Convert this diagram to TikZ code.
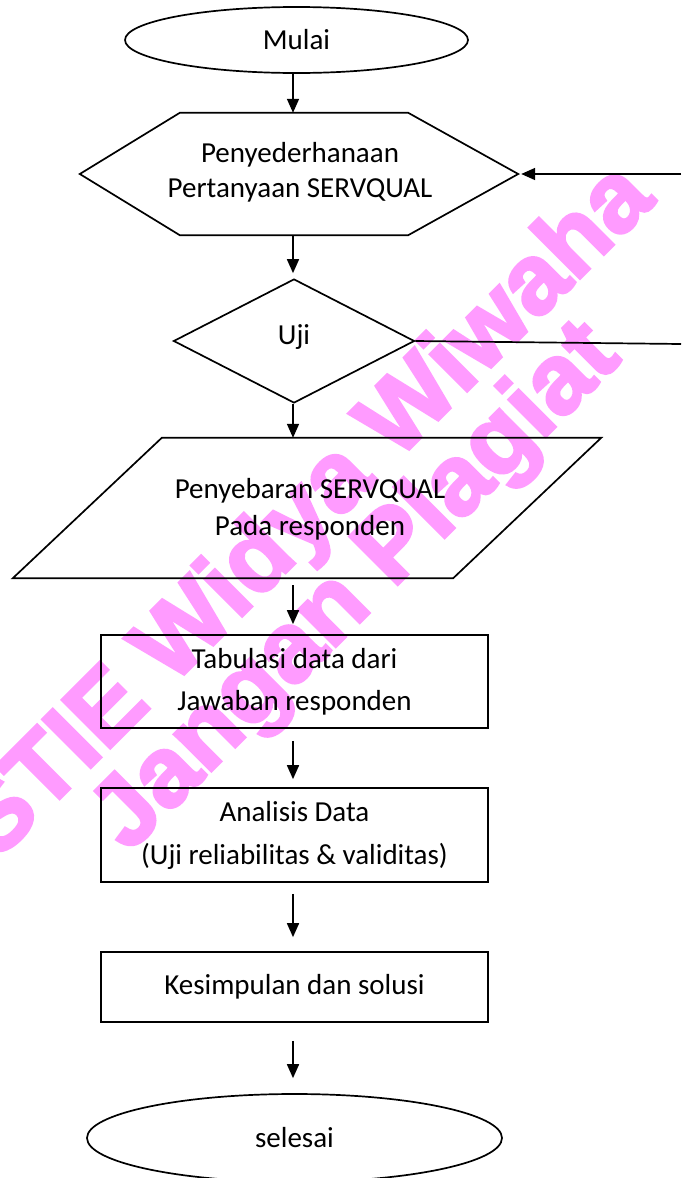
\documentclass[tikz,border=0pt]{standalone}
\usepackage{fontspec}
\setmainfont{Carlito}
\newfontfamily\wmfont{Liberation Sans Bold}[FakeBold=3]
\usetikzlibrary{shapes.geometric,arrows.meta,calc}
\definecolor{wmpink}{RGB}{255,155,255}
\tikzset{
  shp/.style={draw=black,line width=1.7pt},
  txt/.style={inner sep=0pt,align=center,font=\fontsize{29}{35}\selectfont},
  term/.style={shp,ellipse,inner sep=0pt,font=\fontsize{29}{35}\selectfont},
  procbox/.style={shp,rectangle,inner sep=0pt,align=center,font=\fontsize{29}{35}\selectfont},
  ghost/.style={inner sep=0pt,draw=none},
  arr/.style={line width=1.7pt,-{Triangle[length=14pt,width=12pt]}},
  conn/.style={line width=1.7pt},
  wmark/.style={text=wmpink,rotate=45,anchor=mid,inner sep=0pt,font=\wmfont\fontsize{99}{99}\selectfont}
}
\begin{document}
\begin{tikzpicture}[x=1pt,y=-1pt]
\useasboundingbox (0,0) rectangle (681,1178);
\clip (0,0) rectangle (681,1178);
\fill[white] (0,0) rectangle (681,1178);
% watermark
\node[wmark] (wm1) at (325,530) {STIE Widya Wiwaha};
\node[wmark] (wm2) at (374,605) {Jangan Plagiat};
% arrow column
\coordinate (ax) at (293,0);
% start
\node[term,minimum width=343pt,minimum height=66pt] (start) at (296.5,40) {Mulai};
% hexagon
\node[ghost,minimum width=438pt,minimum height=122pt] (hex) at (299,174) {};
\draw[shp] (hex.west) -- ($(hex.north west)+(100,0)$) -- ($(hex.north east)-(110,0)$) -- (hex.east)
  -- ($(hex.south east)-(110,0)$) -- ($(hex.south west)+(100,0)$) -- cycle;
\node[txt] (hext) at (300,172) {Penyederhanaan\\Pertanyaan SERVQUAL};
% decision
\node[shp,diamond,inner sep=0pt,minimum width=241pt,minimum height=124pt] (uji) at (294,341) {};
\node[txt] (ujit) at (294,337) {Uji};
% parallelogram
\node[ghost,minimum width=588pt,minimum height=140pt] (para) at (307,508) {};
\draw[shp] ($(para.north west)+(149,0)$) -- (para.north east) -- ($(para.south east)-(148,0)$) -- (para.south west) -- cycle;
\node[txt] (parat) at (310,509) {Penyebaran SERVQUAL\\[2pt]Pada responden};
% boxes
\node[procbox,minimum width=387pt,minimum height=93pt] (tab) at (294.5,681.5) {Tabulasi data dari\\[7pt]Jawaban responden};
\node[procbox,minimum width=387pt,minimum height=94pt] (ana) at (294.5,835) {Analisis Data\\[8pt](Uji reliabilitas \& validitas)};
\node[procbox,minimum width=387pt,minimum height=70pt] (kes) at (294.5,987) {Kesimpulan dan solusi};
% end
\node[term,minimum width=415pt,minimum height=88pt] (stop) at (294.5,1138) {selesai};
% connectors
\draw[arr] (start.south -| ax) -- (hex.north -| ax);
\draw[arr,shorten >=5pt] (hex.south -| ax) -- (uji.north -| ax);
\draw[arr] (uji.south -| ax) -- (para.north -| ax);
\draw[arr,shorten <=7pt,shorten >=10pt] (para.south -| ax) -- (tab.north -| ax);
\draw[arr,shorten <=12pt,shorten >=8pt] (tab.south -| ax) -- (ana.north -| ax);
\draw[arr,shorten <=11pt,shorten >=14pt] (ana.south -| ax) -- (kes.north -| ax);
\draw[arr,shorten <=18pt,shorten >=15pt] (kes.south -| ax) -- (stop.north -| ax);
% feedback loop
\coordinate (fbtop) at (681,174);
\coordinate (fbbot) at (681,344);
\draw[conn] (uji.east) -- (fbbot);
\draw[arr,shorten >=3pt] (fbtop) -- (hex.east);
\end{tikzpicture}
\end{document}
